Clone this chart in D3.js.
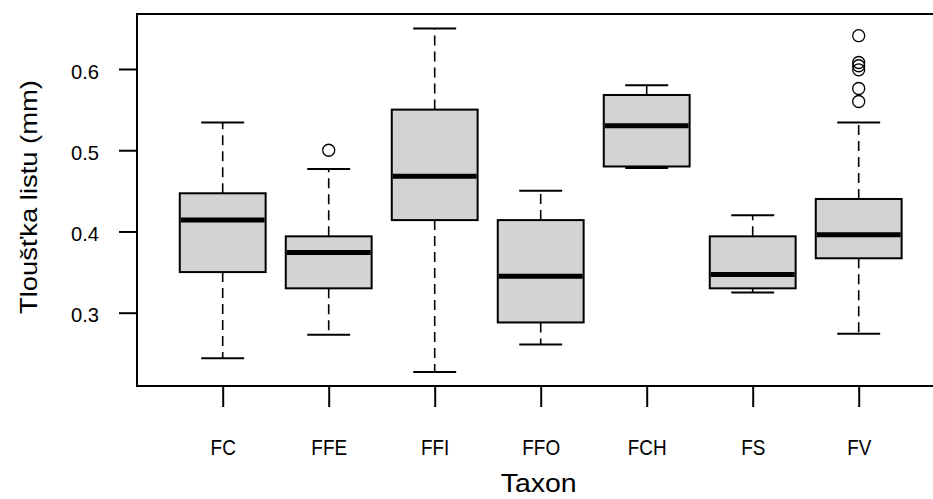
<!DOCTYPE html>
<html>
<head>
<meta charset="utf-8">
<script src="https://cdn.jsdelivr.net/npm/d3@7"></script>
<style>
  html, body { margin: 0; padding: 0; background: #fff; }
  svg { display: block; }
  text { font-family: "Liberation Sans", Arial, sans-serif; fill: #000; }
</style>
</head>
<body>
<svg id="chart" width="933" height="499"></svg>
<script>
// ---- data ----
const categories  = ["FC", "FFE", "FFI", "FFO", "FCH", "FS", "FV"];
const whiskerLow  = [0.244, 0.273, 0.227, 0.261, 0.478, 0.325, 0.274];
const q1          = [0.350, 0.330, 0.414, 0.288, 0.480, 0.330, 0.367];
const median      = [0.414, 0.374, 0.468, 0.345, 0.530, 0.347, 0.396];
const q3          = [0.447, 0.394, 0.550, 0.414, 0.568, 0.394, 0.440];
const whiskerHigh = [0.534, 0.477, 0.650, 0.450, 0.580, 0.420, 0.534];
const outliers    = [[], [0.500], [], [], [], [], [0.641, 0.608, 0.604, 0.599, 0.576, 0.560]];
const yTicks      = [0.3, 0.4, 0.5, 0.6];
const yTitle      = "Tloušťka listu (mm)";
const xTitle      = "Taxon";

// ---- layout ----
const svg = d3.select("#chart");
const frame = { left: 137, top: 14, bottom: 386, right: 945 };

const x = d3.scalePoint().domain(categories).range([169.7, 911.7]).padding(0.5);
const step = x.step();
const boxW = step * 0.81;
const capW = boxW / 2;

const y = d3.scaleLinear().domain([0.3, 0.6]).range([312.7, 69]);

const rows = categories.map((c, i) => ({
  c, lo: whiskerLow[i], q1: q1[i], med: median[i], q3: q3[i], hi: whiskerHigh[i], out: outliers[i]
}));

const g = svg.append("g");

// whiskers (dashed)
g.selectAll(".wl").data(rows).enter().append("line")
  .attr("x1", d => x(d.c)).attr("x2", d => x(d.c))
  .attr("y1", d => y(d.q1)).attr("y2", d => y(d.lo))
  .attr("stroke", "#000").attr("stroke-width", 1.6).attr("stroke-dasharray", "10,6");
g.selectAll(".wh").data(rows).enter().append("line")
  .attr("x1", d => x(d.c)).attr("x2", d => x(d.c))
  .attr("y1", d => y(d.q3)).attr("y2", d => y(d.hi))
  .attr("stroke", "#000").attr("stroke-width", 1.6).attr("stroke-dasharray", "10,6");

// caps
g.selectAll(".cl").data(rows).enter().append("line")
  .attr("x1", d => x(d.c) - capW / 2).attr("x2", d => x(d.c) + capW / 2)
  .attr("y1", d => y(d.lo)).attr("y2", d => y(d.lo))
  .attr("stroke", "#000").attr("stroke-width", 2);
g.selectAll(".ch").data(rows).enter().append("line")
  .attr("x1", d => x(d.c) - capW / 2).attr("x2", d => x(d.c) + capW / 2)
  .attr("y1", d => y(d.hi)).attr("y2", d => y(d.hi))
  .attr("stroke", "#000").attr("stroke-width", 2);

// boxes
g.selectAll(".box").data(rows).enter().append("rect")
  .attr("x", d => x(d.c) - boxW / 2).attr("width", boxW)
  .attr("y", d => y(d.q3)).attr("height", d => y(d.q1) - y(d.q3))
  .attr("fill", "#d3d3d3").attr("stroke", "#000").attr("stroke-width", 2);

// medians
g.selectAll(".med").data(rows).enter().append("line")
  .attr("x1", d => x(d.c) - boxW / 2 + 1).attr("x2", d => x(d.c) + boxW / 2 - 1)
  .attr("y1", d => y(d.med)).attr("y2", d => y(d.med))
  .attr("stroke", "#000").attr("stroke-width", 5);

// outliers
rows.forEach(d => {
  g.selectAll(null).data(d.out).enter().append("circle")
    .attr("cx", x(d.c)).attr("cy", v => y(v)).attr("r", 6)
    .attr("fill", "none").attr("stroke", "#000").attr("stroke-width", 1.3);
});

// frame
svg.append("rect")
  .attr("x", frame.left).attr("y", frame.top)
  .attr("width", frame.right - frame.left).attr("height", frame.bottom - frame.top)
  .attr("fill", "none").attr("stroke", "#000").attr("stroke-width", 2);

// y axis
const yAxis = svg.append("g")
  .attr("transform", `translate(${frame.left},0)`)
  .call(d3.axisLeft(y).tickValues(yTicks).tickFormat(d3.format(".1f")).tickSize(18).tickPadding(20));
yAxis.select(".domain").remove();
yAxis.selectAll(".tick line").attr("stroke", "#000").attr("stroke-width", 2);
yAxis.selectAll(".tick text")
  .attr("font-size", 21).attr("dy", "0.43em")
  .attr("textLength", 28).attr("lengthAdjust", "spacingAndGlyphs")
  .style("font-family", '"Liberation Sans", Arial, sans-serif').attr("fill", "#000");

// x axis
const xAxis = svg.append("g")
  .attr("transform", `translate(0,${frame.bottom})`)
  .call(d3.axisBottom(x).tickSize(21).tickPadding(32));
xAxis.select(".domain").remove();
xAxis.selectAll(".tick line").attr("stroke", "#000").attr("stroke-width", 2);
xAxis.selectAll(".tick text")
  .attr("font-size", 22)
  .attr("transform", "scale(0.86,1)")
  .style("font-family", '"Liberation Sans", Arial, sans-serif').attr("fill", "#000");

// titles
svg.append("text")
  .attr("transform", "translate(36.5,197) rotate(-90)")
  .attr("text-anchor", "middle")
  .attr("font-size", 24)
  .attr("textLength", 234).attr("lengthAdjust", "spacingAndGlyphs")
  .text(yTitle);

svg.append("text")
  .attr("x", 538.7).attr("y", 492.3)
  .attr("text-anchor", "middle")
  .attr("font-size", 25.5)
  .attr("textLength", 76).attr("lengthAdjust", "spacingAndGlyphs")
  .text(xTitle);
</script>
</body>
</html>
